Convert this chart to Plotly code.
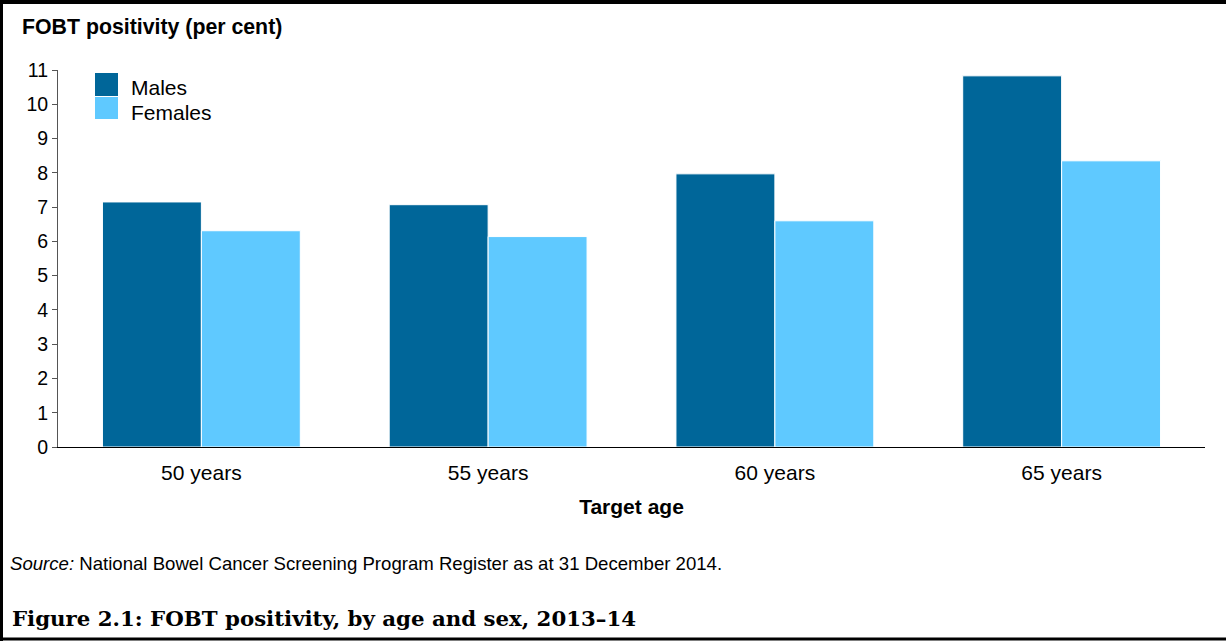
import plotly.graph_objects as go

# FOBT positivity by target age and sex, 2013-14
ages = ["50 years", "55 years", "60 years", "65 years"]
males = [7.15, 7.07, 7.97, 10.83]
females = [6.31, 6.14, 6.60, 8.35]
y_ticks = list(range(0, 12))

MALE_COL = "#006699"
FEMALE_COL = "#5FC9FF"

W, H = 1226, 641
ML, MR, MT, MB = 58, 21, 70, 194
PW, PH = W - ML - MR, H - MT - MB


def px_x(px):
    return (px - ML) / PW


def px_y(py):
    return (H - MB - py) / PH


fig = go.Figure()
fig.add_trace(go.Bar(x=ages, y=males, name="Males", marker_color=MALE_COL,
                     marker_line=dict(color="white", width=1)))
fig.add_trace(go.Bar(x=ages, y=females, name="Females", marker_color=FEMALE_COL,
                     marker_line=dict(color="white", width=1)))

font = "Liberation Sans, Arial, sans-serif"

shapes = [
    # frame: left, top, bottom rules
    dict(type="line", xref="paper", yref="paper", x0=px_x(1.5), x1=px_x(1.5),
         y0=px_y(0), y1=px_y(H), line=dict(color="black", width=3)),
    dict(type="line", xref="paper", yref="paper", x0=px_x(0), x1=px_x(W),
         y0=px_y(2), y1=px_y(2), line=dict(color="black", width=4)),
    dict(type="line", xref="paper", yref="paper", x0=px_x(0), x1=px_x(W),
         y0=px_y(639), y1=px_y(639), line=dict(color="black", width=3)),
    # legend swatches
    dict(type="rect", xref="paper", yref="paper", x0=px_x(95), x1=px_x(118),
         y0=px_y(96), y1=px_y(73), fillcolor=MALE_COL, line=dict(width=0)),
    dict(type="rect", xref="paper", yref="paper", x0=px_x(95), x1=px_x(118),
         y0=px_y(119), y1=px_y(97), fillcolor=FEMALE_COL, line=dict(width=0)),
]

annotations = [
    dict(text="<b>FOBT positivity (per cent)</b>", xref="paper", yref="paper",
         x=px_x(20), y=px_y(27), xanchor="left", yanchor="middle", showarrow=False,
         font=dict(family=font, size=21.3, color="black")),
    dict(text="Males", xref="paper", yref="paper", x=px_x(129), y=px_y(88),
         xanchor="left", yanchor="middle", showarrow=False,
         font=dict(family=font, size=21, color="black")),
    dict(text="Females", xref="paper", yref="paper", x=px_x(129), y=px_y(112),
         xanchor="left", yanchor="middle", showarrow=False,
         font=dict(family=font, size=21, color="black")),
    dict(text="<i>Source:</i> National Bowel Cancer Screening Program Register as at 31 December 2014.",
         xref="paper", yref="paper", x=px_x(8), y=px_y(563), xanchor="left",
         yanchor="middle", showarrow=False,
         font=dict(family=font, size=18.6, color="black")),
    dict(text="<b>Figure 2.1: FOBT positivity, by age and sex, 2013–14</b>",
         xref="paper", yref="paper", x=px_x(10), y=px_y(618), xanchor="left",
         yanchor="middle", showarrow=False,
         font=dict(family="DejaVu Serif, Liberation Serif, serif", size=21.3, color="black")),
]

fig.update_layout(
    width=W, height=H,
    margin=dict(l=ML, r=MR, t=MT, b=MB),
    paper_bgcolor="white", plot_bgcolor="white",
    barmode="group", bargap=0.31, bargroupgap=0,
    showlegend=False,
    font=dict(family=font, color="black"),
    shapes=shapes, annotations=annotations,
    xaxis=dict(showline=True, linecolor="black", linewidth=1.2, ticks="",
               showgrid=False, tickfont=dict(size=21, color="black"),
               ticklabelstandoff=7,
               title=dict(text="<b>Target age</b>", font=dict(size=21, color="black"),
                          standoff=16)),
    yaxis=dict(range=[0, 11], tickvals=y_ticks, showline=True, linecolor="#555555",
               linewidth=1, ticks="outside", ticklen=5, tickcolor="#555555",
               showgrid=False, zeroline=False, tickfont=dict(size=19.5, color="black")),
)

fig.write_html("out.html")
